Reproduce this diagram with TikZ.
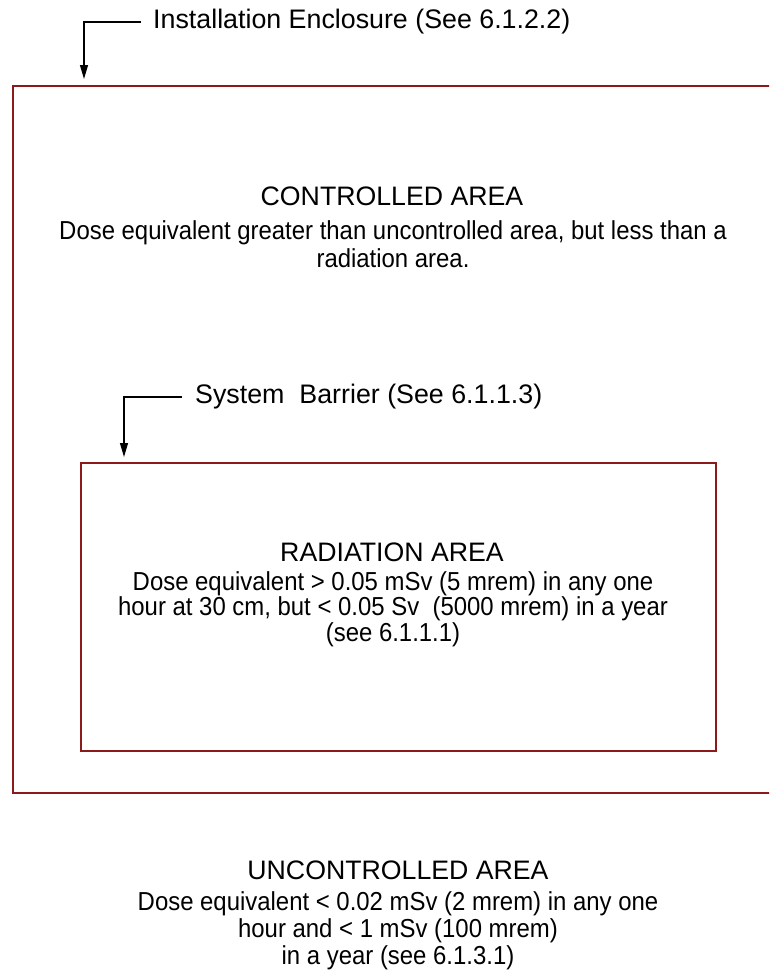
\documentclass[tikz,border=0pt]{standalone}
\usepackage{fontspec}
\setmainfont{Liberation Sans}
\newfontfamily\narrowfont[FakeStretch=0.92]{Liberation Sans}
\usetikzlibrary{arrows.meta}
\definecolor{boxred}{HTML}{8B1A1A}
\tikzset{
  area/.style={draw=boxred, line width=1.6pt},
  lead/.style={draw=black, line width=1.2pt, -{Triangle[width=8pt,length=14pt]}},
  lbl/.style={anchor=west, inner sep=0pt, font=\fontsize{26.8}{30}\selectfont},
  head/.style={inner sep=0pt, font=\fontsize{26.7}{30}\selectfont},
  body/.style={inner sep=0pt, align=center},
}
\begin{document}
\begin{tikzpicture}[x=1pt, y=-1pt]
\useasboundingbox (0,0) rectangle (769,972);
\clip (0,0) rectangle (769,972);
\fill[white] (0,0) rectangle (769,972);
% boxes
\draw[area] (13,86) rectangle (790,793);
\draw[area] (81,463) rectangle (716,751);
% installation enclosure label
\node[lbl] (instlbl) at (153,22) {Installation Enclosure (See 6.1.2.2)};
\coordinate (insttip) at (84,79);
\draw[lead] ([xshift=-12pt]instlbl.west) -| (insttip);
% system barrier label
\node[lbl] (syslbl) at (195,397) {System\ \ Barrier (See 6.1.1.3)};
\coordinate (systip) at (124,457);
\draw[lead] ([xshift=-13pt]syslbl.west) -| (systip);
% controlled area
\node[head] (ctrlhead) at (392,196) {CONTROLLED AREA};
\node[body, font=\narrowfont\fontsize{26}{28}\selectfont] (ctrlbody) at (393,244)
  {Dose equivalent greater than uncontrolled area, but less than a\\radiation area.};
% radiation area
\node[head] (radhead) at (392,552) {RADIATION AREA};
\node[body, font=\narrowfont\fontsize{26}{25.5}\selectfont] (radbody) at (393,609)
  {Dose equivalent > 0.05 mSv (5 mrem) in any one\\hour at 30 cm, but < 0.05 Sv\ \ (5000 mrem) in a year\\(see 6.1.1.1)};
% uncontrolled area
\node[head] (unchead) at (398,870) {UNCONTROLLED AREA};
\node[body, font=\narrowfont\fontsize{26}{27}\selectfont] (uncbody) at (398,931)
  {Dose equivalent < 0.02 mSv (2 mrem) in any one\\hour and < 1 mSv (100 mrem)\\in a year (see 6.1.3.1)};
\end{tikzpicture}
\end{document}
